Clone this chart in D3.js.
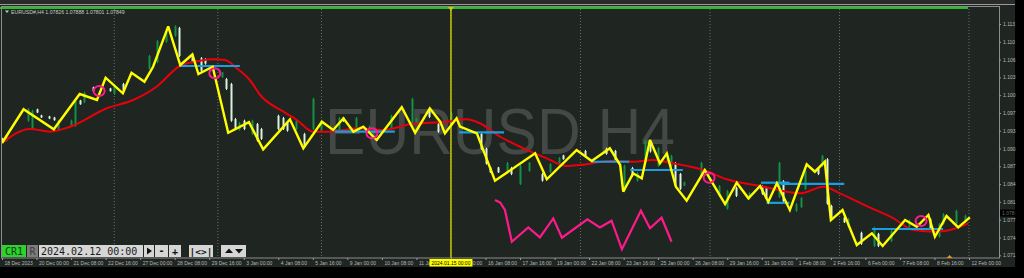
<!DOCTYPE html>
<html><head><meta charset="utf-8">
<script src="https://cdn.jsdelivr.net/npm/d3@7"></script>
<style>html,body{margin:0;padding:0;background:#000;overflow:hidden}svg{display:block}</style>
</head><body><svg id="c" width="1024" height="278"></svg>
<script>
const symbolTitle = "EURUSD#,H4  1.07826 1.07888 1.07801 1.07849";
const watermark = "EURUSD H4";
const priceTicks = [1.0708,1.07404,1.07728,1.08052,1.08376,1.087,1.09024,1.09348,1.09672,1.09996,1.1032,1.10644,1.10968,1.11292];
const priceTickLabels = ["1.071","1.074","1.077","1.081","1.084","1.087","1.090","1.093","1.097","1.100","1.103","1.106","1.110","1.113"];
const timeTickBars = [0,8,16,24,32,40,48,56,64,72,80,88,96,104,112,120,128,136,144,152,160,168,176,184,192,200,208,216,224];
const timeTickLabels = ["18 Dec 2023","20 Dec 00:00","21 Dec 08:00","22 Dec 16:00","27 Dec 00:00","28 Dec 08:00","29 Dec 16:00","3 Jan 00:00","4 Jan 08:00","5 Jan 16:00","9 Jan 00:00","10 Jan 08:00","11 Jan 16:00","15 Jan 00:00","16 Jan 08:00","17 Jan 16:00","19 Jan 00:00","22 Jan 08:00","23 Jan 16:00","25 Jan 00:00","26 Jan 08:00","29 Jan 16:00","31 Jan 00:00","1 Feb 08:00","2 Feb 16:00","6 Feb 00:00","7 Feb 08:00","8 Feb 16:00","12 Feb 00:00"];
const weekSeparatorBars = [26,50,74,104,134,164,194,224];
const markerBar = 104;
const markerLabel = "2024.01.15 00:00";
const currentTime = "2024.02.12 00:00";
const bidPrice = 1.07849;

// candles (bar index, open, high, low, close) - visible ones estimated
const candleBars  = [0,1,6,7,8,9,11,12,13,16,17,18,19,21,25,26,28,34,36,38,40,41,44,46,47,51,52,53,54,55,56,58,59,60,64,65,66,68,70,72,74,78,79,82,85,86,90,95,96,99,101,104,111,112,113,115,117,118,120,122,125,127,129,130,135,140,142,144,146,147,149,150,152,154,155,156,157,158,162,166,168,170,173,176,177,180,181,184,185,186,189,190,191,192,195,196,199,202,203,206,210,215,217,218,221,223];
const candleOpen  = [1.0921,1.0916,1.0953,1.0938,1.0974,1.0963,1.0961,1.0959,1.0938,1.0944,1.0944,1.0990,1.0987,1.1014,1.1012,1.1002,1.1020,1.1048,1.1060,1.1097,1.1108,1.1122,1.1074,1.1067,1.1065,1.1032,1.1029,1.1020,1.0956,1.0937,1.0953,1.0929,1.0947,1.0938,1.0962,1.0958,1.0949,1.0938,1.0929,1.0938,1.0935,1.0938,1.0959,1.0935,1.0933,1.0931,1.0938,1.0942,1.0948,1.0974,1.0947,1.0951,1.0929,1.0902,1.0868,1.0868,1.0860,1.0867,1.0838,1.0862,1.0856,1.0860,1.0875,1.0890,1.0898,1.0902,1.0898,1.0825,1.0867,1.0844,1.0878,1.0916,1.0871,1.0878,1.0871,1.0876,1.0856,1.0835,1.0851,1.0816,1.0793,1.0831,1.0811,1.0834,1.0831,1.0814,1.0843,1.0789,1.0796,1.0829,1.0865,1.0871,1.0883,1.0798,1.0777,1.0760,1.0749,1.0725,1.0747,1.0734,1.0760,1.0774,1.0742,1.0765,1.0765,1.0769];
const candleHigh  = [1.0922,1.0925,1.0976,1.0973,1.0975,1.0964,1.0962,1.0960,1.0955,1.0955,1.0991,1.0991,1.1006,1.1015,1.1013,1.1018,1.1022,1.1073,1.1100,1.1118,1.1127,1.1124,1.1076,1.1069,1.1067,1.1042,1.1031,1.1022,1.0958,1.0951,1.0955,1.0955,1.0949,1.0940,1.0964,1.0960,1.0951,1.0955,1.0931,1.0995,1.0955,1.0960,1.0960,1.0960,1.0944,1.0942,1.0964,1.0995,1.0958,1.0976,1.0949,1.0969,1.0931,1.0904,1.0869,1.0869,1.0878,1.0869,1.0873,1.0878,1.0858,1.0876,1.0887,1.0891,1.0900,1.0904,1.0900,1.0873,1.0869,1.0860,1.0918,1.0918,1.0905,1.0895,1.0891,1.0878,1.0858,1.0842,1.0878,1.0836,1.0827,1.0833,1.0823,1.0836,1.0833,1.0878,1.0845,1.0803,1.0814,1.0864,1.0867,1.0891,1.0885,1.0800,1.0778,1.0776,1.0751,1.0760,1.0749,1.0754,1.0773,1.0776,1.0767,1.0785,1.0791,1.0782];
const candleLow   = [1.0913,1.0915,1.0951,1.0936,1.0967,1.0958,1.0956,1.0953,1.0936,1.0942,1.0942,1.0982,1.0985,1.1006,1.1006,1.1000,1.1006,1.1046,1.1058,1.1095,1.1106,1.1069,1.1058,1.1042,1.1055,1.1031,1.1009,1.0951,1.0936,1.0935,1.0936,1.0927,1.0915,1.0918,1.0936,1.0936,1.0933,1.0936,1.0904,1.0936,1.0933,1.0936,1.0951,1.0933,1.0931,1.0929,1.0936,1.0940,1.0947,1.0958,1.0931,1.0949,1.0900,1.0873,1.0858,1.0858,1.0858,1.0854,1.0836,1.0860,1.0842,1.0858,1.0873,1.0882,1.0887,1.0891,1.0878,1.0823,1.0851,1.0842,1.0876,1.0895,1.0869,1.0876,1.0869,1.0833,1.0827,1.0834,1.0849,1.0814,1.0791,1.0814,1.0809,1.0818,1.0809,1.0812,1.0805,1.0787,1.0794,1.0827,1.0854,1.0869,1.0800,1.0773,1.0767,1.0758,1.0727,1.0723,1.0723,1.0732,1.0758,1.0754,1.0740,1.0763,1.0763,1.0767];
const candleClose = [1.0914,1.0924,1.0974,1.0971,1.0968,1.0959,1.0957,1.0954,1.0953,1.0953,1.0989,1.0983,1.1004,1.1007,1.1007,1.1016,1.1008,1.1071,1.1098,1.1116,1.1125,1.1071,1.1060,1.1044,1.1057,1.1041,1.1011,1.0953,1.0938,1.0949,1.0938,1.0953,1.0917,1.0920,1.0938,1.0938,1.0935,1.0953,1.0906,1.0993,1.0953,1.0958,1.0952,1.0958,1.0942,1.0940,1.0962,1.0993,1.0957,1.0960,1.0933,1.0967,1.0902,1.0875,1.0859,1.0859,1.0876,1.0856,1.0871,1.0876,1.0844,1.0874,1.0885,1.0883,1.0889,1.0893,1.0880,1.0871,1.0853,1.0858,1.0916,1.0897,1.0903,1.0893,1.0889,1.0835,1.0829,1.0841,1.0876,1.0834,1.0825,1.0816,1.0821,1.0820,1.0811,1.0876,1.0807,1.0801,1.0812,1.0862,1.0856,1.0889,1.0802,1.0775,1.0768,1.0774,1.0729,1.0758,1.0725,1.0752,1.0771,1.0756,1.0765,1.0783,1.0789,1.0780];

// yellow zigzag line (bar index, price)
const zigzagBars = [0,5,12,18,22,24,28,30,33,35,38.5,41.3,44.1,45.5,48.8,52.4,57.2,60.5,66.7,69.8,74.1,76.7,79.1,81.4,83.7,86.8,92.6,95.7,99.1,101.5,102.6,105.3,106.1,110,114.2,123.5,126.2,133.1,136.6,140.8,143.2,143.9,146.2,148.2,150.1,152.4,154,156.1,158.6,162.8,167.5,170.2,172.9,175.6,177.5,179.5,182.5,186.4,188.3,190.6,192,194.7,198,201.5,204,209.2,211.9,214.6,216.1,218.8,221.5,224.2];
const zigzagPrices = [1.09125,1.09739,1.09374,1.10017,1.09908,1.10314,1.1003,1.10405,1.10241,1.10514,1.1125,1.10545,1.10737,1.10381,1.10514,1.09312,1.09504,1.0901,1.09556,1.09028,1.09513,1.09362,1.09575,1.09331,1.09422,1.09179,1.09775,1.09312,1.09757,1.09513,1.09301,1.09575,1.09422,1.09301,1.08438,1.08937,1.08464,1.08997,1.08797,1.09028,1.08724,1.08238,1.08573,1.08482,1.09179,1.08755,1.08934,1.08329,1.08074,1.08633,1.08014,1.08402,1.08118,1.08342,1.08056,1.08391,1.07905,1.08737,1.08602,1.08784,1.07722,1.07905,1.07267,1.0748,1.07249,1.07722,1.076,1.07814,1.07418,1.07795,1.07589,1.07772];

// red moving average
const maBars = [0,6.5,11.1,15.8,24.3,30.4,35.8,41.2,45.9,48.9,51.7,54.4,57.4,59.8,65.2,68.3,72.1,76.7,82.2,88.3,94.5,103,107.6,110.7,115.4,120.8,126.2,130.8,133.9,140.8,146.2,150.9,154.7,162.5,167.9,175.6,184.9,190.3,194.1,200.3,206.5,211.1,216.5,220.4,223.8];
const maPrices = [1.09125,1.0938,1.09331,1.09422,1.09757,1.09908,1.1015,1.10527,1.10624,1.10649,1.10636,1.10485,1.10272,1.09999,1.09695,1.09544,1.09331,1.09331,1.09392,1.09362,1.09465,1.09513,1.09556,1.09484,1.09239,1.09028,1.08846,1.08706,1.08724,1.08797,1.08784,1.08815,1.08766,1.08633,1.08464,1.08342,1.08209,1.08329,1.08209,1.07977,1.07753,1.0754,1.07509,1.07559,1.07662];

// blue horizontal levels
const levelStartBars = [41.2,77.1,105.9,136.6,145.5,175.8,177.1,180.4,201.5];
const levelEndBars   = [55.1,91,116.3,145.3,157.7,182.4,182.4,195.1,218];
const levelPrices    = [1.10527,1.09331,1.09317,1.08784,1.08633,1.08402,1.08035,1.08379,1.07559];

// magenta circles
const circleBars = [22.5,49.3,85.7,163.8,212.9];
const circlePrices = [1.10072,1.10394,1.09301,1.08493,1.07704];

// magenta oscillator line
const oscBars = [114.2,115.4,116.5,118.1,121.9,124.6,127.7,129.7,135.6,138.5,141.2,143.6,148,150.1,152.8,155.1];
const oscPrices = [1.08087,1.08041,1.07905,1.07327,1.07589,1.07407,1.07753,1.074,1.07735,1.07589,1.0771,1.07189,1.07892,1.07571,1.07764,1.07327];

const svg = d3.select("#c");
const W = 1024, H = 278;
const plotL = 1, plotR = 999, plotT = 7, plotB = 258;
const x = d3.scaleLinear().domain([0, 224]).range([2, 969]);
const y = d3.scaleLinear().domain([1.0708, 1.11292]).range([255.3, 24]);
const FONT = "Liberation Sans, Arial, sans-serif";

svg.append("rect").attr("width", W).attr("height", H).attr("fill", "#000");
svg.append("rect").attr("x", 0).attr("y", 0).attr("width", 1015).attr("height", 267).attr("fill", "#1f2521");
svg.append("rect").attr("x", 0).attr("y", 0).attr("width", 1015).attr("height", 4).attr("fill", "#2a2a2a");
svg.append("line").attr("x1", 0).attr("x2", 1015).attr("y1", 4.5).attr("y2", 4.5).attr("stroke", "#9a9a9a").attr("stroke-width", 1);

// watermark
svg.append("text").attr("x", 325).attr("y", 153.5).attr("textLength", 350).attr("lengthAdjust", "spacingAndGlyphs")
  .attr("font-family", FONT).attr("font-size", 64).attr("fill", "#444946").text(watermark);

// week separators
svg.append("g").selectAll("line").data(weekSeparatorBars).join("line")
  .attr("x1", d => x(d)).attr("x2", d => x(d)).attr("y1", plotT + 2).attr("y2", plotB)
  .attr("stroke", "#6e6e6e").attr("stroke-width", 1).attr("stroke-dasharray", "1,2");

// candles
const cg = svg.append("g");
const candles = candleBars.map((b, i) => ({ b, o: candleOpen[i], h: candleHigh[i], l: candleLow[i], c: candleClose[i] }));
const col = d => d.c >= d.o ? "#139147" : "#d9f2dc";
cg.selectAll("line").data(candles).join("line")
  .attr("x1", d => Math.round(x(d.b)) + 0.5).attr("x2", d => Math.round(x(d.b)) + 0.5)
  .attr("y1", d => y(d.h)).attr("y2", d => y(d.l)).attr("stroke", col).attr("stroke-width", 1);
cg.selectAll("rect").data(candles).join("rect")
  .attr("x", d => Math.round(x(d.b)) - 0.5).attr("width", 2)
  .attr("y", d => y(Math.max(d.o, d.c))).attr("height", d => Math.max(1, Math.abs(y(d.o) - y(d.c))))
  .attr("fill", col);

// marker vertical line
svg.append("line").attr("x1", x(markerBar)).attr("x2", x(markerBar)).attr("y1", plotT).attr("y2", plotB)
  .attr("stroke", "#c8c800").attr("stroke-width", 1.5);

// top green line
svg.append("line").attr("x1", 0).attr("x2", 968).attr("y1", 8).attr("y2", 8).attr("stroke", "#22c322").attr("stroke-width", 2);

// MA
svg.append("path").datum(maBars.map((b, i) => [b, maPrices[i]]))
  .attr("d", d3.line().x(d => x(d[0])).y(d => y(d[1])).curve(d3.curveMonotoneX))
  .attr("fill", "none").attr("stroke", "#e8000b").attr("stroke-width", 2);

// levels
svg.append("g").selectAll("line").data(levelPrices).join("line")
  .attr("x1", (d, i) => x(levelStartBars[i])).attr("x2", (d, i) => x(levelEndBars[i]))
  .attr("y1", d => y(d)).attr("y2", d => y(d)).attr("stroke", "#1a9ee0").attr("stroke-width", 2.2);

// zigzag
svg.append("path").datum(zigzagBars.map((b, i) => [b, zigzagPrices[i]]))
  .attr("d", d3.line().x(d => x(d[0])).y(d => y(d[1]))).attr("fill", "none").attr("stroke", "#ffff00")
  .attr("stroke-width", 2.4).attr("stroke-linejoin", "miter").attr("stroke-miterlimit", 3);

// circles
svg.append("g").selectAll("ellipse").data(circleBars).join("ellipse")
  .attr("cx", d => x(d)).attr("cy", (d, i) => y(circlePrices[i])).attr("rx", 5.5).attr("ry", 5)
  .attr("fill", "none").attr("stroke", "#ff1a8c").attr("stroke-width", 2);

// oscillator
svg.append("path").datum(oscBars.map((b, i) => [b, oscPrices[i]]))
  .attr("d", d3.line().x(d => x(d[0])).y(d => y(d[1]))).attr("fill", "none").attr("stroke", "#ff1a8c").attr("stroke-width", 2.2);

// frame
svg.append("rect").attr("x", plotL + 0.5).attr("y", plotT - 0.5).attr("width", plotR - plotL).attr("height", plotB - plotT + 0.5)
  .attr("fill", "none").attr("stroke", "#8c8c8c").attr("stroke-width", 1);

// title
svg.append("path").attr("d", "M5,10.5 L9,10.5 L7,13 Z").attr("fill", "#c8c8c8");
svg.append("text").attr("x", 11).attr("y", 13.5).attr("font-family", FONT)
  .attr("font-size", 5.2).attr("fill", "#c8c8c8").text(symbolTitle);

// price axis
const yAxis = d3.axisRight(y).tickValues(priceTicks).tickFormat((d, i) => priceTickLabels[i]).tickSize(2).tickPadding(2);
const ga = svg.append("g").attr("transform", `translate(${plotR},0)`).call(yAxis);
ga.select(".domain").remove();
ga.selectAll("line").attr("stroke", "#9a9a9a");
ga.selectAll("text").attr("font-family", FONT).attr("font-size", 5).attr("fill", "#b8b8b8");

// bid label
svg.append("rect").attr("x", plotR + 1).attr("y", y(bidPrice) - 3.5).attr("width", 15).attr("height", 7).attr("fill", "#000");
svg.append("text").attr("x", plotR + 3).attr("y", y(bidPrice) + 1.8).attr("font-family", FONT)
  .attr("font-size", 5).attr("fill", "#6a6a6a").text(bidPrice.toFixed(3));

// time axis
const xAxis = d3.axisBottom(x).tickValues(timeTickBars).tickFormat((d, i) => timeTickLabels[i]).tickSize(2).tickPadding(1);
const gx = svg.append("g").attr("transform", `translate(0,${plotB})`).call(xAxis);
gx.select(".domain").remove();
gx.selectAll("line").attr("stroke", "#9a9a9a");
gx.selectAll("text").attr("text-anchor", "start").attr("dx", 2).attr("font-family", FONT)
  .attr("font-size", 5).attr("fill", "#b8b8b8");

// marker label
const mx = x(markerBar);
svg.append("rect").attr("x", mx - 21.5).attr("y", 259).attr("width", 43).attr("height", 7.5).attr("fill", "#ffff00");
svg.append("text").attr("x", mx).attr("y", 264.8).attr("text-anchor", "middle").attr("font-family", FONT)
  .attr("font-size", 5).attr("fill", "#000").text(markerLabel);
svg.append("path").attr("d", `M${mx - 3},${plotT} L${mx + 3},${plotT} L${mx},${plotT + 4} Z`).attr("fill", "#c8c800");

// small orange marker
svg.append("path").attr("d", `M${x(219.5) - 3},${plotB} L${x(219.5) + 3},${plotB} L${x(219.5)},${plotB - 3} Z`).attr("fill", "#e8901a");

// toolbar
const tb = svg.append("g").attr("font-family", "DejaVu Sans Mono, Liberation Mono, monospace");
tb.append("rect").attr("x", 2).attr("y", 245).attr("width", 24).attr("height", 12).attr("fill", "#2ed12e");
tb.append("text").attr("x", 14).attr("y", 254.5).attr("text-anchor", "middle").attr("font-size", 10).attr("fill", "#0d3d0d").text("CR1");
tb.append("rect").attr("x", 27).attr("y", 245).attr("width", 11).attr("height", 12).attr("fill", "#7c7c7c");
tb.append("text").attr("x", 32.5).attr("y", 254.5).attr("text-anchor", "middle").attr("font-size", 10).attr("fill", "#3a3a3a").text("R");
tb.append("rect").attr("x", 39).attr("y", 245).attr("width", 104).attr("height", 12).attr("fill", "#d6d6d6");
tb.append("text").attr("x", 41).attr("y", 254.5).attr("font-size", 10).attr("fill", "#1a1a1a").text(currentTime);
const btns = [[144, 10], [155, 13], [169, 12], [189, 24], [221, 25]];
btns.forEach(b => {
  tb.append("rect").attr("x", b[0]).attr("y", 245).attr("width", b[1]).attr("height", 12).attr("fill", "#d6d6d6");
});
tb.append("path").attr("d", "M147,247.5 L152,251 L147,254.5 Z").attr("fill", "#111");
tb.append("text").attr("x", 161.5).attr("y", 254).attr("text-anchor", "middle").attr("font-size", 10).attr("font-weight", "bold").attr("fill", "#111").text("-");
tb.append("text").attr("x", 175).attr("y", 254.5).attr("text-anchor", "middle").attr("font-size", 10).attr("font-weight", "bold").attr("fill", "#111").text("+");
tb.append("text").attr("x", 201).attr("y", 254.5).attr("text-anchor", "middle").attr("font-size", 9.5).attr("font-weight", "bold").attr("fill", "#111").text("|<>|");
tb.append("path").attr("d", "M225,253 L229,248.5 L233,253 Z").attr("fill", "#111");
tb.append("path").attr("d", "M235,249 L243,249 L239,253.5 Z").attr("fill", "#111");
</script></body></html>
